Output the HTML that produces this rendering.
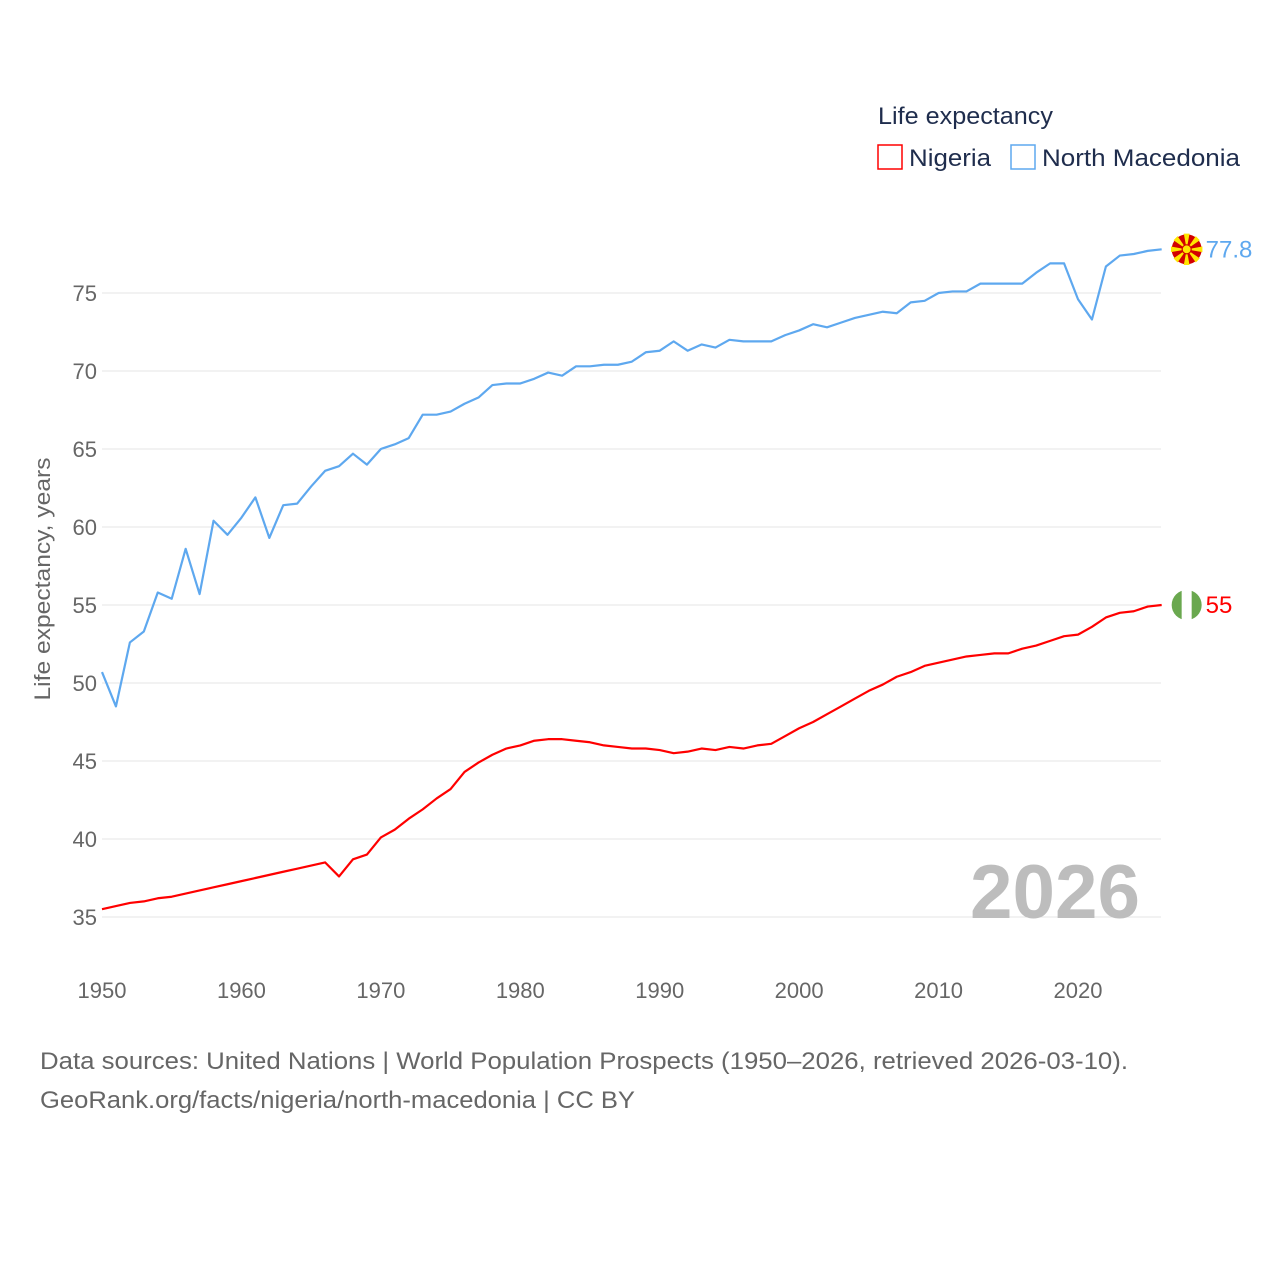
<!DOCTYPE html>
<html><head><meta charset="utf-8"><style>
body{margin:0;background:#fff;}
svg text{font-family:"Liberation Sans",sans-serif;}
</style></head><body>
<svg id="chart" width="1280" height="1280" viewBox="0 0 1280 1280">
<g id="grid"></g>
<g id="yticks"></g>
<g id="xticks"></g>
<text x="970" y="918" font-size="76" font-weight="bold" fill="#bdbdbd" textLength="170" lengthAdjust="spacingAndGlyphs">2026</text>
<text transform="translate(50,579) rotate(-90)" font-size="22" fill="#666" text-anchor="middle" textLength="243" lengthAdjust="spacingAndGlyphs">Life expectancy, years</text>
<g id="series"></g>
<g>
<text x="878" y="124" font-size="24" fill="#1f2d4d" textLength="175" lengthAdjust="spacingAndGlyphs">Life expectancy</text>
<g><rect x="878" y="145" width="24" height="24" fill="none" stroke="#ff0000" stroke-width="1.5"/><text x="909" y="166" font-size="24" fill="#1f2d4d" textLength="82" lengthAdjust="spacingAndGlyphs">Nigeria</text></g>
<g><rect x="1011" y="145" width="24" height="24" fill="none" stroke="#5ea8ef" stroke-width="1.5"/><text x="1042" y="166" font-size="24" fill="#1f2d4d" textLength="198" lengthAdjust="spacingAndGlyphs">North Macedonia</text></g>
</g>
<g>
<text x="40" y="1069" font-size="24" fill="#666" textLength="1088" lengthAdjust="spacingAndGlyphs">Data sources: United Nations | World Population Prospects (1950–2026, retrieved 2026-03-10).</text>
<text x="40" y="1108" font-size="24" fill="#666" textLength="595" lengthAdjust="spacingAndGlyphs">GeoRank.org/facts/nigeria/north-macedonia | CC BY</text>
</g>
</svg>
<script>
const years=[];for(let y=1950;y<=2026;y++)years.push(y);
const macedonia=[50.7,48.5,52.6,53.3,55.8,55.4,58.6,55.7,60.4,59.5,60.6,61.9,59.3,61.4,61.5,62.6,63.6,63.9,64.7,64.0,65.0,65.3,65.7,67.2,67.2,67.4,67.9,68.3,69.1,69.2,69.2,69.5,69.9,69.7,70.3,70.3,70.4,70.4,70.6,71.2,71.3,71.9,71.3,71.7,71.5,72.0,71.9,71.9,71.9,72.3,72.6,73.0,72.8,73.1,73.4,73.6,73.8,73.7,74.4,74.5,75.0,75.1,75.1,75.6,75.6,75.6,75.6,76.3,76.9,76.9,74.6,73.3,76.7,77.4,77.5,77.7,77.8];
const nigeria=[35.5,35.7,35.9,36.0,36.2,36.3,36.5,36.7,36.9,37.1,37.3,37.5,37.7,37.9,38.1,38.3,38.5,37.6,38.7,39.0,40.1,40.6,41.3,41.9,42.6,43.2,44.3,44.9,45.4,45.8,46.0,46.3,46.4,46.4,46.3,46.2,46.0,45.9,45.8,45.8,45.7,45.5,45.6,45.8,45.7,45.9,45.8,46.0,46.1,46.6,47.1,47.5,48.0,48.5,49.0,49.5,49.9,50.4,50.7,51.1,51.3,51.5,51.7,51.8,51.9,51.9,52.2,52.4,52.7,53.0,53.1,53.6,54.2,54.5,54.6,54.9,55.0];
const yTicks=[35,40,45,50,55,60,65,70,75];
const xTicks=[1950,1960,1970,1980,1990,2000,2010,2020];
const endLabels=["77.8","55"];
const NS="http://www.w3.org/2000/svg";
const X=y=>102+(y-1950)*13.943;
const Y=v=>917-(v-35)*15.6;
function mk(tag,attrs,parent){const e=document.createElementNS(NS,tag);for(const k in attrs)e.setAttribute(k,attrs[k]);parent.appendChild(e);return e;}
const grid=document.getElementById('grid'),yt=document.getElementById('yticks'),xt=document.getElementById('xticks'),ser=document.getElementById('series');
yTicks.forEach(t=>{
 const l=mk('line',{x1:102,x2:1161,y1:Y(t),y2:Y(t),stroke:'#e6e6e6','stroke-width':1},grid);
 
 
 const tx=mk('text',{x:97,y:Y(t)+8,'font-size':22,fill:'#666','text-anchor':'end'},yt);tx.textContent=t;
 
 
});
xTicks.forEach(t=>{
 const tx=mk('text',{x:X(t),y:998,'font-size':22,fill:'#666','text-anchor':'middle'},xt);tx.textContent=t;
 
 
});
function line(data,color,name){
 const p=mk('polyline',{points:data.map((v,i)=>X(years[i])+','+Y(v)).join(' '),fill:'none',stroke:color,'stroke-width':2.2,'stroke-linejoin':'round'},ser);
 
 
}
line(macedonia,'#5ea8ef','north-macedonia-line');
line(nigeria,'#ff0000','nigeria-line');
const lx=X(2026)+25;
const mY=Y(macedonia[macedonia.length-1]);
const mf=mk('g',{},ser);


mk('circle',{cx:lx,cy:mY,r:15,fill:'#d20000'},mf);
for(let a=0;a<8;a++){const ang=a*Math.PI/4;mk('polygon',{points:`${lx},${mY} ${lx+16*Math.cos(ang-0.18)},${mY+16*Math.sin(ang-0.18)} ${lx+16*Math.cos(ang+0.18)},${mY+16*Math.sin(ang+0.18)}`,fill:'#ffe600'},mf);}
mk('circle',{cx:lx,cy:mY,r:4.5,fill:'#ffe600',stroke:'#d20000','stroke-width':1.2},mf);
const mt=mk('text',{x:lx+19,y:mY+8,'font-size':24,fill:'#5ea8ef'},ser);mt.textContent=endLabels[0];


const nY=Y(nigeria[nigeria.length-1]);
const nf=mk('g',{},ser);


mk('circle',{cx:lx,cy:nY,r:15,fill:'#6aa84f'},nf);
mk('rect',{x:lx-5,y:nY-15,width:10,height:30,fill:'#fff'},nf);
const nt=mk('text',{x:lx+19,y:nY+8,'font-size':24,fill:'#ff0000'},ser);nt.textContent=endLabels[1];


</script>
</body></html>
